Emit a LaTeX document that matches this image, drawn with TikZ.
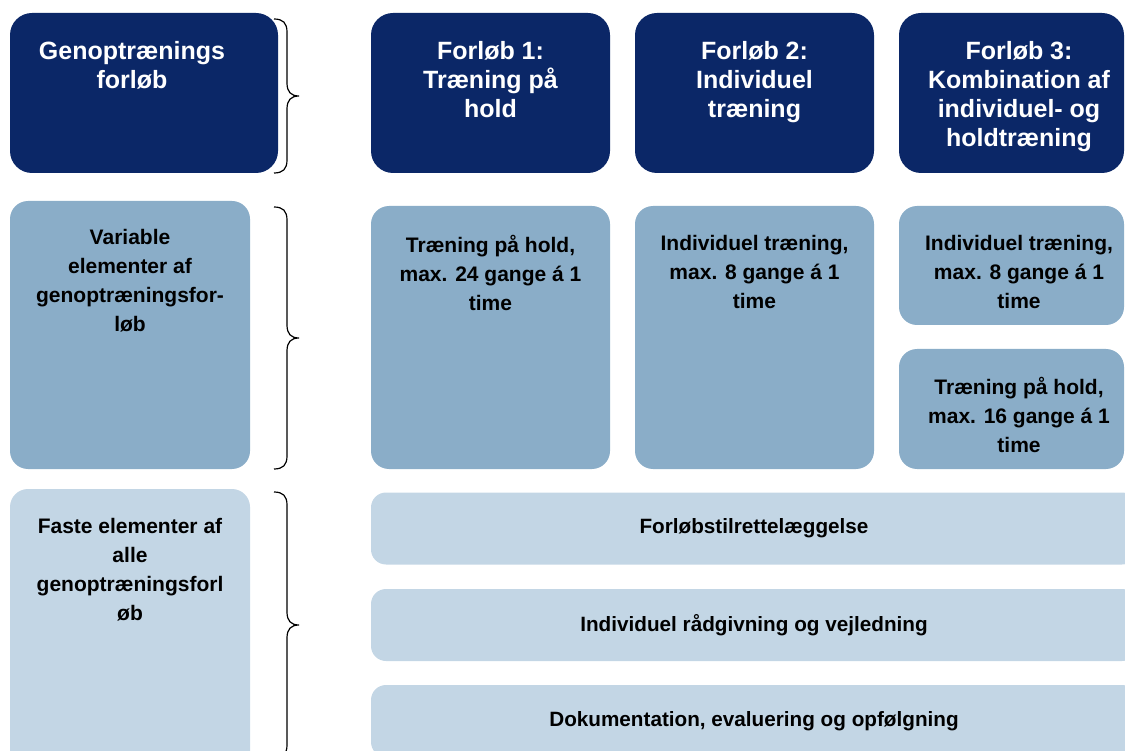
\documentclass[tikz,border=0pt]{standalone}
\usepackage{fontspec}
\setmainfont{Liberation Sans}
\usepackage{xcolor}
\usepackage{tikz}
\usetikzlibrary{shapes,arrows,positioning}

\definecolor{navy}{RGB}{11,39,103}
\definecolor{midblue}{RGB}{138,173,200}
\definecolor{lightblue}{RGB}{195,214,229}

\begin{document}
\begin{tikzpicture}[x=1pt, y=-1pt]
	\tikzstyle{darkbox} = [rectangle, fill=navy, rounded corners=22pt, minimum height=160pt, inner sep=0pt]
	\tikzstyle{midbox} = [rectangle, fill=midblue, rounded corners=18pt, inner sep=0pt]
	\tikzstyle{lightbox} = [rectangle, fill=lightblue, rounded corners=18pt, inner sep=0pt]
	\tikzstyle{bar} = [lightbox, rounded corners=15pt, minimum width=766pt, minimum height=72pt, font=\fontsize{20.7}{29}\selectfont\bfseries]
	\tikzstyle{headtext} = [text=white, font=\fontsize{25}{29}\selectfont\bfseries, align=center, inner sep=0pt, anchor=north]
	\tikzstyle{bodytext} = [text=black, font=\fontsize{21}{29}\selectfont\bfseries, align=center, inner sep=0pt, anchor=north]
	\tikzstyle{brace} = [draw, line width=1.2pt]
	\useasboundingbox (0,0) rectangle (1125,751);
	% Place header boxes
	\node [darkbox, minimum width=268pt] (genbox) at (144,93) {};
	\node [darkbox, minimum width=239pt] (forlob1) at (490.5,93) {};
	\node [darkbox, minimum width=239pt] (forlob2) at (754.5,93) {};
	\node [darkbox, minimum width=225pt] (forlob3) at (1011.5,93) {};
	\node [headtext] (gentext) at ([xshift=-12pt, yshift=-28pt]genbox.north) {Genoptrænings\\forløb};
	\node [headtext] (forlob1text) at ([yshift=-28pt]forlob1.north) {Forløb 1:\\Træning på\\hold};
	\node [headtext] (forlob2text) at ([yshift=-28pt]forlob2.north) {Forløb 2:\\Individuel\\træning};
	\node [headtext] (forlob3text) at ([xshift=7.5pt, yshift=-28pt]forlob3.north) {Forløb 3:\\Kombination af\\individuel- og\\holdtræning};
	% Place variable elements
	\node [midbox, minimum width=240pt, minimum height=268pt] (varbox) at (130,335) {};
	\node [midbox, minimum width=239pt, minimum height=263pt] (var1) at (490.5,337.5) {};
	\node [midbox, minimum width=239pt, minimum height=263pt] (var2) at (754.5,337.5) {};
	\node [midbox, minimum width=225pt, minimum height=119pt] (var3a) at (1011.5,265.5) {};
	\node [midbox, minimum width=225pt, minimum height=120pt] (var3b) at (1011.5,409) {};
	\node [bodytext] (vartext) at ([yshift=-28pt]varbox.north) {Variable\\elementer af\\genoptræningsfor-\\løb};
	\node [bodytext] (var1text) at ([yshift=-29pt]var1.north) {Træning på hold,\\max. 24 gange á 1\\time};
	\node [bodytext] (var2text) at ([yshift=-29pt]var2.north) {Individuel træning,\\max. 8 gange á 1\\time};
	\node [bodytext] (var3atext) at ([xshift=7.5pt, yshift=-29pt]var3a.north) {Individuel træning,\\max. 8 gange á 1\\time};
	\node [bodytext] (var3btext) at ([xshift=7.5pt, yshift=-28pt]var3b.north) {Træning på hold,\\max. 16 gange á 1\\time};
	% Place fixed elements
	\node [lightbox, minimum width=240pt, minimum height=281pt] (fastbox) at (130,629.5) {};
	\node [bodytext] (fasttext) at ([yshift=-29pt]fastbox.north) {Faste elementer af\\alle\\genoptræningsforl\\øb};
	\node [bar] (bar1) at (754,528.5) {Forløbstilrettelæggelse};
	\node [bar] (bar2) at (754,625) {Individuel rådgivning og vejledning};
	\node [bar] (bar3) at (754,721) {Dokumentation, evaluering og opfølgning};
	% Draw braces
	\foreach \yt/\yb in {19/173, 207/469, 492/758} {
		\pgfmathsetmacro{\ym}{(\yt+\yb)/2}
		\path [brace] (274,\yt) .. controls (283,\yt) and (287,\yt+4) .. (287,\yt+13)
			-- (287,\ym-13) .. controls (287,\ym-4) and (291,\ym) .. (299,\ym)
			.. controls (291,\ym) and (287,\ym+4) .. (287,\ym+13)
			-- (287,\yb-13) .. controls (287,\yb-4) and (283,\yb) .. (274,\yb);
	}
\end{tikzpicture}
\end{document}
